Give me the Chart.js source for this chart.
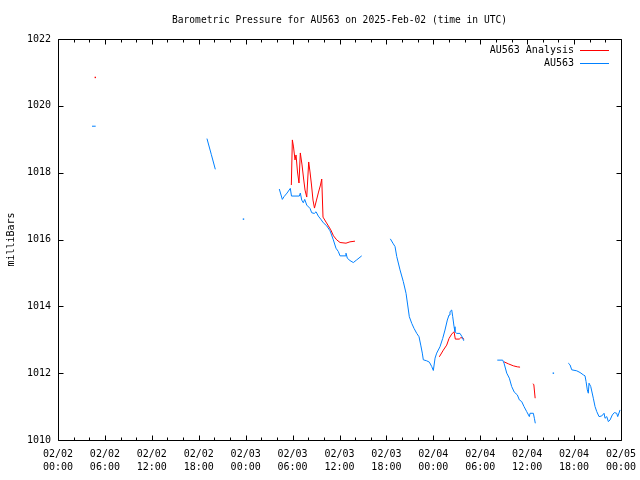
<!DOCTYPE html>
<html><head><meta charset="utf-8">
<script src="https://cdn.jsdelivr.net/npm/chart.js@4/dist/chart.umd.min.js"></script>
<style>html,body{margin:0;padding:0;background:#fff}#wrap{width:640px;height:480px}</style>
</head><body><div id="wrap"><canvas id="c" width="640" height="480"></canvas></div>
<script>
const titleText = 'Barometric Pressure for AU563 on 2025-Feb-02 (time in UTC)';
const yTitle = 'milliBars';
const tickDates = ['02/02','02/02','02/02','02/02','02/03','02/03','02/03','02/03','02/04','02/04','02/04','02/04','02/05'];
const tickTimes = ['00:00','06:00','12:00','18:00','00:00','06:00','12:00','18:00','00:00','06:00','12:00','18:00','00:00'];
const anaLabel = 'AU563 Analysis';
const obsLabel = 'AU563';

// hours since 02/02 00:00 UTC; null marks a gap in the record
const anaHours = [4.77, null,
  29.84, 29.97, 30.12, 30.31, 30.44, 30.63, 30.82, 30.99, 31.21, 31.40, 31.59, 31.81, 32.06, 32.23, 32.42, 32.61, 32.80, 33.06, 33.32, 33.57, 33.73, 33.89, 34.28, 34.88, 35.23, 35.64, 36.07, 36.83, 37.34, 37.98, null,
  48.77, 49.28, 49.71, 50.01, 50.35, 50.65, 50.81, 51.32, 51.50, 51.76, 51.89, null,
  57.04, 57.59, 58.23, 58.74, 59.09, null,
  60.72, 60.85, 61.02];
const anaPressure = [1020.85, null,
  1017.63, 1018.98, 1018.77, 1018.38, 1018.53, 1018.02, 1017.69, 1018.59, 1018.23, 1017.84, 1017.48, 1017.27, 1018.32, 1018.02, 1017.63, 1017.18, 1016.94, 1017.18, 1017.42, 1017.63, 1017.81, 1016.67, 1016.52, 1016.29, 1016.11, 1015.99, 1015.91, 1015.89, 1015.93, 1015.95, null,
  1012.49, 1012.69, 1012.84, 1013.04, 1013.17, 1013.24, 1013.02, 1013.02, 1013.06, 1013.06, 1013.01, null,
  1012.34, 1012.28, 1012.22, 1012.19, 1012.18, null,
  1011.68, 1011.66, 1011.25];

const obsHours = [4.35, 4.82, null,
  19.05, 19.60, 20.12, null,
  23.72, null,
  28.30, 28.69, 28.90, 29.29, 29.71, 29.86, 30.86, 30.99, 31.17, 31.37, 31.55, 31.81, 32.23, 32.45, 32.78, 33.00, 33.29, 33.60, 33.93, 34.36, 34.79, 35.21, 35.55, 35.85, 36.07, 36.71, 36.83, 37.00, 37.34, 37.77, 38.20, 38.84, null,
  42.50, 42.88, 43.10, 43.32, 43.74, 44.16, 44.51, 44.72, 44.93, 45.24, 45.53, 45.88, 46.17, 46.39, 46.59, 46.72, 47.15, 47.49, 47.79, 48.00, 48.22, 48.43, 48.85, 49.20, 49.49, 49.79, 50.01, 50.13, 50.35, 50.48, 50.65, 50.77, 50.99, 51.41, 51.67, 51.89, null,
  56.18, 56.87, 57.04, 57.39, 57.72, 58.02, 58.36, 58.74, 59.00, 59.30, 59.60, 59.94, 60.28, 60.37, 60.79, 60.92, 61.04, null,
  63.35, null,
  65.26, 65.48, 65.70, 66.34, 66.76, 67.18, 67.40, 67.53, 67.69, 67.82, 67.91, 68.13, 68.46, 68.68, 68.90, 69.19, 69.54, 69.83, 69.96, 70.18, 70.38, 70.60, 70.89, 71.15, 71.45, 71.58, 71.88];
const obsPressure = [1019.39, 1019.39, null,
  1019.02, 1018.55, 1018.10, null,
  1016.61, null,
  1017.51, 1017.20, 1017.28, 1017.39, 1017.53, 1017.30, 1017.30, 1017.39, 1017.18, 1017.10, 1017.20, 1017.03, 1016.93, 1016.80, 1016.78, 1016.83, 1016.70, 1016.61, 1016.50, 1016.41, 1016.26, 1015.99, 1015.74, 1015.64, 1015.51, 1015.51, 1015.59, 1015.44, 1015.37, 1015.31, 1015.39, 1015.51, null,
  1016.02, 1015.87, 1015.79, 1015.49, 1015.09, 1014.74, 1014.39, 1014.04, 1013.69, 1013.49, 1013.34, 1013.19, 1013.09, 1012.84, 1012.60, 1012.40, 1012.37, 1012.33, 1012.20, 1012.08, 1012.45, 1012.60, 1012.79, 1013.04, 1013.29, 1013.59, 1013.74, 1013.84, 1013.89, 1013.69, 1013.39, 1013.24, 1013.19, 1013.19, 1013.09, 1012.97, null,
  1012.39, 1012.39, 1012.30, 1012.00, 1011.85, 1011.60, 1011.43, 1011.35, 1011.20, 1011.15, 1011.00, 1010.85, 1010.70, 1010.80, 1010.80, 1010.65, 1010.50, null,
  1012.00, null,
  1012.30, 1012.25, 1012.10, 1012.07, 1012.02, 1011.95, 1011.92, 1011.75, 1011.50, 1011.40, 1011.70, 1011.60, 1011.25, 1011.00, 1010.85, 1010.70, 1010.72, 1010.80, 1010.65, 1010.70, 1010.55, 1010.60, 1010.75, 1010.82, 1010.80, 1010.70, 1010.90];

const FONT = 'DejaVu Sans Mono';

function toPoints(hours, vals) {
  const out = [];
  let last = 0;
  for (let i = 0; i < vals.length; i++) {
    if (vals[i] === null) { out.push({x: last, y: null}); }
    else { last = hours[i]; out.push({x: hours[i], y: vals[i]}); }
  }
  return out;
}
function isolatedRadius(ctx) {
  const d = ctx.dataset.data, i = ctx.dataIndex;
  if (!d[i] || d[i].y === null) return 0;
  const prevGap = !d[i-1] || d[i-1].y === null;
  const nextGap = !d[i+1] || d[i+1].y === null;
  return (prevGap && nextGap) ? 1 : 0;
}

const framePlugin = {
  id: 'gnuFrame',
  afterDraw(chart) {
    const {ctx, chartArea: a, scales} = chart;
    ctx.save();
    ctx.strokeStyle = '#000';
    ctx.lineWidth = 1;
    const L = Math.round(a.left) + 0.5, R = Math.round(a.right) + 0.5;
    const T = Math.round(a.top) + 0.5, B = Math.round(a.bottom) + 0.5;
    ctx.beginPath();
    ctx.rect(L, T, R - L, B - T);
    for (let h = 0; h <= 72; h += 2) {
      const px = Math.round(scales.x.getPixelForValue(h)) + 0.5;
      const len = (h % 6 === 0) ? 5 : 3;
      ctx.moveTo(px, B); ctx.lineTo(px, B - len);
      ctx.moveTo(px, T); ctx.lineTo(px, T + len);
    }
    for (let v = 1010; v <= 1022; v += 2) {
      const py = Math.round(scales.y.getPixelForValue(v)) + 0.5;
      ctx.moveTo(L, py); ctx.lineTo(L + 5, py);
      ctx.moveTo(R, py); ctx.lineTo(R - 5, py);
    }
    ctx.stroke();
    ctx.font = '10px "' + FONT + '"';
    ctx.textAlign = 'right';
    ctx.textBaseline = 'middle';
    chart.data.datasets.forEach((ds, i) => {
      const y = Math.round(a.top + 11 + 13 * i) + 0.5;
      ctx.fillStyle = '#000';
      ctx.fillText(ds.label, a.right - 47, y);
      ctx.strokeStyle = ds.borderColor;
      ctx.beginPath();
      ctx.moveTo(a.right - 41, y); ctx.lineTo(a.right - 12, y);
      ctx.stroke();
    });
    ctx.restore();
  }
};

new Chart(document.getElementById('c'), {
  type: 'line',
  data: {
    datasets: [
      {label: anaLabel, data: toPoints(anaHours, anaPressure), borderColor: '#ff0000', backgroundColor: '#ff0000', order: 1},
      {label: obsLabel, data: toPoints(obsHours, obsPressure), borderColor: '#0080ff', backgroundColor: '#0080ff', order: 0}
    ]
  },
  options: {
    responsive: false,
    animation: false,
    devicePixelRatio: 1,
    events: [],
    spanGaps: false,
    layout: {padding: {left: 0, right: 19, top: 0, bottom: 0}},
    elements: {
      line: {borderWidth: 1, tension: 0, fill: false},
      point: {radius: isolatedRadius, pointStyle: 'rect', borderWidth: 0, hoverRadius: 0}
    },
    plugins: {
      legend: {display: false},
      tooltip: {enabled: false},
      title: {
        display: true, text: titleText, color: '#000', fullSize: false,
        font: {family: FONT, size: 9.6, weight: 'normal', lineHeight: 1.25},
        padding: {top: 14, bottom: 13}
      }
    },
    scales: {
      x: {
        type: 'linear', min: 0, max: 72,
        grid: {display: false, drawTicks: false},
        border: {display: false},
        ticks: {
          stepSize: 6, autoSkip: false, maxRotation: 0, minRotation: 0,
          color: '#000', padding: 8,
          font: {family: FONT, size: 10, lineHeight: 1.3},
          callback: (v) => { const i = Math.round(v / 6); return [tickDates[i], tickTimes[i]]; }
        },
        afterFit: (s) => { s.height = 40; s.paddingLeft = 0; s.paddingRight = 0; }
      },
      y: {
        type: 'linear', min: 1010, max: 1022,
        grid: {display: false, drawTicks: false},
        border: {display: false},
        ticks: {
          stepSize: 2, color: '#000', padding: 7,
          font: {family: FONT, size: 10},
          callback: (v) => String(v)
        },
        title: {display: true, text: yTitle, color: '#000', font: {family: FONT, size: 10}, padding: {top: 5, bottom: 0}},
        afterFit: (s) => { s.width = 58; s.paddingTop = 0; s.paddingBottom = 0; }
      }
    }
  },
  plugins: [framePlugin]
});
</script></body></html>
